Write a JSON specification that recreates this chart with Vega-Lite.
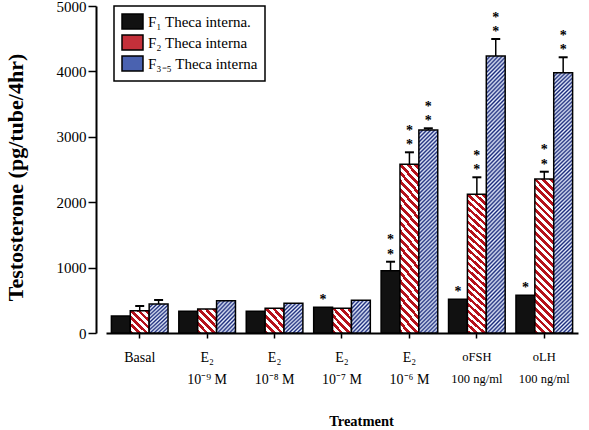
{
  "$schema": "https://vega.github.io/schema/vega-lite/v6.json",
  "autosize": {"type": "none"},
  "width": 472,
  "height": 327,
  "padding": {"left": 106, "top": 6, "right": 11, "bottom": 97},
  "background": "white",
  "config": {
    "font": "Liberation Serif",
    "view": {"stroke": null},
    "axis": {"grid": false, "domainColor": "black", "tickColor": "black", "labelColor": "black", "titleColor": "black", "labelFont": "Liberation Serif", "titleFont": "Liberation Serif"},
    "legend": {"strokeWidth": 1.5}
  },
  "data": {
    "values": [
      {"treatment": "Basal", "series": "F1", "value": 260, "upper": 260, "stars": ""},
      {"treatment": "Basal", "series": "F2", "value": 341, "upper": 413, "stars": ""},
      {"treatment": "Basal", "series": "F3-5", "value": 443, "upper": 505, "stars": ""},
      {"treatment": "E₂|10⁻⁹ M", "series": "F1", "value": 332, "upper": 332, "stars": ""},
      {"treatment": "E₂|10⁻⁹ M", "series": "F2", "value": 367, "upper": 367, "stars": ""},
      {"treatment": "E₂|10⁻⁹ M", "series": "F3-5", "value": 494, "upper": 494, "stars": ""},
      {"treatment": "E₂|10⁻⁸ M", "series": "F1", "value": 333, "upper": 333, "stars": ""},
      {"treatment": "E₂|10⁻⁸ M", "series": "F2", "value": 378, "upper": 378, "stars": ""},
      {"treatment": "E₂|10⁻⁸ M", "series": "F3-5", "value": 454, "upper": 454, "stars": ""},
      {"treatment": "E₂|10⁻⁷ M", "series": "F1", "value": 393, "upper": 393, "stars": "*"},
      {"treatment": "E₂|10⁻⁷ M", "series": "F2", "value": 378, "upper": 378, "stars": ""},
      {"treatment": "E₂|10⁻⁷ M", "series": "F3-5", "value": 500, "upper": 500, "stars": ""},
      {"treatment": "E₂|10⁻⁶ M", "series": "F1", "value": 953, "upper": 1090, "stars": "**"},
      {"treatment": "E₂|10⁻⁶ M", "series": "F2", "value": 2580, "upper": 2763, "stars": "**"},
      {"treatment": "E₂|10⁻⁶ M", "series": "F3-5", "value": 3104, "upper": 3130, "stars": "**"},
      {"treatment": "oFSH|100 ng/ml", "series": "F1", "value": 515, "upper": 515, "stars": "*"},
      {"treatment": "oFSH|100 ng/ml", "series": "F2", "value": 2121, "upper": 2381, "stars": "**"},
      {"treatment": "oFSH|100 ng/ml", "series": "F3-5", "value": 4235, "upper": 4495, "stars": "**"},
      {"treatment": "oLH|100 ng/ml", "series": "F1", "value": 576, "upper": 576, "stars": "*"},
      {"treatment": "oLH|100 ng/ml", "series": "F2", "value": 2355, "upper": 2466, "stars": "**"},
      {"treatment": "oLH|100 ng/ml", "series": "F3-5", "value": 3980, "upper": 4216, "stars": "**"}
    ]
  },
  "encoding": {
    "x": {
      "field": "treatment", "type": "nominal", "sort": null,
      "scale": {"paddingInner": 0.16, "paddingOuter": 0.08},
      "axis": {
        "title": "Treatment", "labelExpr": "split(datum.label, '|')", "labelAngle": 0,
        "tickSize": 5, "tickWidth": 1.5, "domainWidth": 2,
        "labelFontSize": {"condition": {"test": "indexof(datum.value, 'ng') >= 0", "value": 12.5}, "value": 14},
        "labelPadding": 12, "labelLineHeight": 22,
        "titleFontSize": 14.5, "titleFontWeight": "bold", "titlePadding": 28, "titleX": 255
      }
    },
    "xOffset": {"field": "series", "type": "nominal", "sort": ["F1", "F2", "F3-5"], "scale": {"paddingInner": 0, "paddingOuter": 0}}
  },
  "layer": [
    {
      "mark": {"type": "bar", "stroke": "black", "strokeWidth": 1.5},
      "encoding": {
        "y": {
          "field": "value", "type": "quantitative",
          "scale": {"domain": [0, 5000], "nice": false},
          "title": "Testosterone (pg/tube/4hr)",
          "axis": {
            "values": [0, 1000, 2000, 3000, 4000, 5000], "format": "d",
            "offset": 10, "tickSize": 8, "tickWidth": 1.5, "domainWidth": 2,
            "labelFontSize": 15, "labelPadding": 2,
            "titleFontSize": 22, "titleFontWeight": "bold", "titlePadding": 29, "titleY": 171
          }
        },
        "fill": {
          "field": "series", "type": "nominal",
          "scale": {"domain": ["F1", "F2", "F3-5"], "range": ["#111111", "#c4303a", "#4a62b0"]},
          "condition": [
            {"test": "datum.series == 'F2' && datum.value > 1000", "value": {"gradient": "linear", "x1": 0, "y1": 1, "x2": 0.1357, "y2": -0.106, "stops": [
              {"offset": 0, "color": "#b5121b"}, {"offset": 0.022, "color": "#b5121b"}, {"offset": 0.022, "color": "#ffffff"}, {"offset": 0.044, "color": "#ffffff"},
              {"offset": 0.044, "color": "#b5121b"}, {"offset": 0.066, "color": "#b5121b"}, {"offset": 0.066, "color": "#ffffff"}, {"offset": 0.088, "color": "#ffffff"},
              {"offset": 0.088, "color": "#b5121b"}, {"offset": 0.11, "color": "#b5121b"}, {"offset": 0.11, "color": "#ffffff"}, {"offset": 0.132, "color": "#ffffff"},
              {"offset": 0.132, "color": "#b5121b"}, {"offset": 0.154, "color": "#b5121b"}, {"offset": 0.154, "color": "#ffffff"}, {"offset": 0.176, "color": "#ffffff"},
              {"offset": 0.176, "color": "#b5121b"}, {"offset": 0.198, "color": "#b5121b"}, {"offset": 0.198, "color": "#ffffff"}, {"offset": 0.22, "color": "#ffffff"},
              {"offset": 0.22, "color": "#b5121b"}, {"offset": 0.242, "color": "#b5121b"}, {"offset": 0.242, "color": "#ffffff"}, {"offset": 0.264, "color": "#ffffff"},
              {"offset": 0.264, "color": "#b5121b"}, {"offset": 0.286, "color": "#b5121b"}, {"offset": 0.286, "color": "#ffffff"}, {"offset": 0.308, "color": "#ffffff"},
              {"offset": 0.308, "color": "#b5121b"}, {"offset": 0.33, "color": "#b5121b"}, {"offset": 0.33, "color": "#ffffff"}, {"offset": 0.352, "color": "#ffffff"},
              {"offset": 0.352, "color": "#b5121b"}, {"offset": 0.374, "color": "#b5121b"}, {"offset": 0.374, "color": "#ffffff"}, {"offset": 0.396, "color": "#ffffff"},
              {"offset": 0.396, "color": "#b5121b"}, {"offset": 0.418, "color": "#b5121b"}, {"offset": 0.418, "color": "#ffffff"}, {"offset": 0.44, "color": "#ffffff"},
              {"offset": 0.44, "color": "#b5121b"}, {"offset": 0.462, "color": "#b5121b"}, {"offset": 0.462, "color": "#ffffff"}, {"offset": 0.484, "color": "#ffffff"},
              {"offset": 0.484, "color": "#b5121b"}, {"offset": 0.506, "color": "#b5121b"}, {"offset": 0.506, "color": "#ffffff"}, {"offset": 0.528, "color": "#ffffff"},
              {"offset": 0.528, "color": "#b5121b"}, {"offset": 0.55, "color": "#b5121b"}, {"offset": 0.55, "color": "#ffffff"}, {"offset": 0.572, "color": "#ffffff"},
              {"offset": 0.572, "color": "#b5121b"}, {"offset": 0.594, "color": "#b5121b"}, {"offset": 0.594, "color": "#ffffff"}, {"offset": 0.616, "color": "#ffffff"},
              {"offset": 0.616, "color": "#b5121b"}, {"offset": 0.638, "color": "#b5121b"}, {"offset": 0.638, "color": "#ffffff"}, {"offset": 0.66, "color": "#ffffff"},
              {"offset": 0.66, "color": "#b5121b"}, {"offset": 0.682, "color": "#b5121b"}, {"offset": 0.682, "color": "#ffffff"}, {"offset": 0.704, "color": "#ffffff"},
              {"offset": 0.704, "color": "#b5121b"}, {"offset": 0.726, "color": "#b5121b"}, {"offset": 0.726, "color": "#ffffff"}, {"offset": 0.748, "color": "#ffffff"},
              {"offset": 0.748, "color": "#b5121b"}, {"offset": 0.77, "color": "#b5121b"}, {"offset": 0.77, "color": "#ffffff"}, {"offset": 0.792, "color": "#ffffff"},
              {"offset": 0.792, "color": "#b5121b"}, {"offset": 0.814, "color": "#b5121b"}, {"offset": 0.814, "color": "#ffffff"}, {"offset": 0.836, "color": "#ffffff"},
              {"offset": 0.836, "color": "#b5121b"}, {"offset": 0.858, "color": "#b5121b"}, {"offset": 0.858, "color": "#ffffff"}, {"offset": 0.88, "color": "#ffffff"},
              {"offset": 0.88, "color": "#b5121b"}, {"offset": 0.902, "color": "#b5121b"}, {"offset": 0.902, "color": "#ffffff"}, {"offset": 0.924, "color": "#ffffff"},
              {"offset": 0.924, "color": "#b5121b"}, {"offset": 0.946, "color": "#b5121b"}, {"offset": 0.946, "color": "#ffffff"}, {"offset": 0.968, "color": "#ffffff"},
              {"offset": 0.968, "color": "#b5121b"}, {"offset": 0.99, "color": "#b5121b"}, {"offset": 0.99, "color": "#ffffff"}, {"offset": 1, "color": "#ffffff"}
            ]}},
            {"test": "datum.series == 'F2'", "value": {"gradient": "linear", "x1": 0, "y1": 1, "x2": 0.8813, "y2": -0.0955, "stops": [
              {"offset": 0, "color": "#b5121b"}, {"offset": 0.088, "color": "#b5121b"}, {"offset": 0.088, "color": "#ffffff"}, {"offset": 0.176, "color": "#ffffff"},
              {"offset": 0.176, "color": "#b5121b"}, {"offset": 0.264, "color": "#b5121b"}, {"offset": 0.264, "color": "#ffffff"}, {"offset": 0.352, "color": "#ffffff"},
              {"offset": 0.352, "color": "#b5121b"}, {"offset": 0.44, "color": "#b5121b"}, {"offset": 0.44, "color": "#ffffff"}, {"offset": 0.528, "color": "#ffffff"},
              {"offset": 0.528, "color": "#b5121b"}, {"offset": 0.616, "color": "#b5121b"}, {"offset": 0.616, "color": "#ffffff"}, {"offset": 0.704, "color": "#ffffff"},
              {"offset": 0.704, "color": "#b5121b"}, {"offset": 0.792, "color": "#b5121b"}, {"offset": 0.792, "color": "#ffffff"}, {"offset": 0.88, "color": "#ffffff"},
              {"offset": 0.88, "color": "#b5121b"}, {"offset": 0.968, "color": "#b5121b"}, {"offset": 0.968, "color": "#ffffff"}, {"offset": 1, "color": "#ffffff"}
            ]}},
            {"test": "datum.series == 'F3-5' && datum.value > 3500", "value": {"gradient": "linear", "x1": 0, "y1": 0, "x2": 0.075, "y2": 1.065, "stops": [
              {"offset": 0, "color": "#18287a"}, {"offset": 0.007, "color": "#e6edfc"}, {"offset": 0.014, "color": "#18287a"}, {"offset": 0.021, "color": "#e6edfc"},
              {"offset": 0.028, "color": "#18287a"}, {"offset": 0.035, "color": "#e6edfc"}, {"offset": 0.042, "color": "#18287a"}, {"offset": 0.049, "color": "#e6edfc"},
              {"offset": 0.056, "color": "#18287a"}, {"offset": 0.063, "color": "#e6edfc"}, {"offset": 0.07, "color": "#18287a"}, {"offset": 0.077, "color": "#e6edfc"},
              {"offset": 0.084, "color": "#18287a"}, {"offset": 0.091, "color": "#e6edfc"}, {"offset": 0.098, "color": "#18287a"}, {"offset": 0.105, "color": "#e6edfc"},
              {"offset": 0.112, "color": "#18287a"}, {"offset": 0.119, "color": "#e6edfc"}, {"offset": 0.126, "color": "#18287a"}, {"offset": 0.133, "color": "#e6edfc"},
              {"offset": 0.14, "color": "#18287a"}, {"offset": 0.147, "color": "#e6edfc"}, {"offset": 0.154, "color": "#18287a"}, {"offset": 0.161, "color": "#e6edfc"},
              {"offset": 0.168, "color": "#18287a"}, {"offset": 0.175, "color": "#e6edfc"}, {"offset": 0.182, "color": "#18287a"}, {"offset": 0.189, "color": "#e6edfc"},
              {"offset": 0.196, "color": "#18287a"}, {"offset": 0.203, "color": "#e6edfc"}, {"offset": 0.21, "color": "#18287a"}, {"offset": 0.217, "color": "#e6edfc"},
              {"offset": 0.224, "color": "#18287a"}, {"offset": 0.231, "color": "#e6edfc"}, {"offset": 0.238, "color": "#18287a"}, {"offset": 0.245, "color": "#e6edfc"},
              {"offset": 0.252, "color": "#18287a"}, {"offset": 0.259, "color": "#e6edfc"}, {"offset": 0.266, "color": "#18287a"}, {"offset": 0.273, "color": "#e6edfc"},
              {"offset": 0.28, "color": "#18287a"}, {"offset": 0.287, "color": "#e6edfc"}, {"offset": 0.294, "color": "#18287a"}, {"offset": 0.301, "color": "#e6edfc"},
              {"offset": 0.308, "color": "#18287a"}, {"offset": 0.315, "color": "#e6edfc"}, {"offset": 0.322, "color": "#18287a"}, {"offset": 0.329, "color": "#e6edfc"},
              {"offset": 0.336, "color": "#18287a"}, {"offset": 0.343, "color": "#e6edfc"}, {"offset": 0.35, "color": "#18287a"}, {"offset": 0.357, "color": "#e6edfc"},
              {"offset": 0.364, "color": "#18287a"}, {"offset": 0.371, "color": "#e6edfc"}, {"offset": 0.378, "color": "#18287a"}, {"offset": 0.385, "color": "#e6edfc"},
              {"offset": 0.392, "color": "#18287a"}, {"offset": 0.399, "color": "#e6edfc"}, {"offset": 0.406, "color": "#18287a"}, {"offset": 0.413, "color": "#e6edfc"},
              {"offset": 0.42, "color": "#18287a"}, {"offset": 0.427, "color": "#e6edfc"}, {"offset": 0.434, "color": "#18287a"}, {"offset": 0.441, "color": "#e6edfc"},
              {"offset": 0.448, "color": "#18287a"}, {"offset": 0.455, "color": "#e6edfc"}, {"offset": 0.462, "color": "#18287a"}, {"offset": 0.469, "color": "#e6edfc"},
              {"offset": 0.476, "color": "#18287a"}, {"offset": 0.483, "color": "#e6edfc"}, {"offset": 0.49, "color": "#18287a"}, {"offset": 0.497, "color": "#e6edfc"},
              {"offset": 0.504, "color": "#18287a"}, {"offset": 0.511, "color": "#e6edfc"}, {"offset": 0.518, "color": "#18287a"}, {"offset": 0.525, "color": "#e6edfc"},
              {"offset": 0.532, "color": "#18287a"}, {"offset": 0.539, "color": "#e6edfc"}, {"offset": 0.546, "color": "#18287a"}, {"offset": 0.553, "color": "#e6edfc"},
              {"offset": 0.56, "color": "#18287a"}, {"offset": 0.567, "color": "#e6edfc"}, {"offset": 0.574, "color": "#18287a"}, {"offset": 0.581, "color": "#e6edfc"},
              {"offset": 0.588, "color": "#18287a"}, {"offset": 0.595, "color": "#e6edfc"}, {"offset": 0.602, "color": "#18287a"}, {"offset": 0.609, "color": "#e6edfc"},
              {"offset": 0.616, "color": "#18287a"}, {"offset": 0.623, "color": "#e6edfc"}, {"offset": 0.63, "color": "#18287a"}, {"offset": 0.637, "color": "#e6edfc"},
              {"offset": 0.644, "color": "#18287a"}, {"offset": 0.651, "color": "#e6edfc"}, {"offset": 0.658, "color": "#18287a"}, {"offset": 0.665, "color": "#e6edfc"},
              {"offset": 0.672, "color": "#18287a"}, {"offset": 0.679, "color": "#e6edfc"}, {"offset": 0.686, "color": "#18287a"}, {"offset": 0.693, "color": "#e6edfc"},
              {"offset": 0.7, "color": "#18287a"}, {"offset": 0.707, "color": "#e6edfc"}, {"offset": 0.714, "color": "#18287a"}, {"offset": 0.721, "color": "#e6edfc"},
              {"offset": 0.728, "color": "#18287a"}, {"offset": 0.735, "color": "#e6edfc"}, {"offset": 0.742, "color": "#18287a"}, {"offset": 0.749, "color": "#e6edfc"},
              {"offset": 0.756, "color": "#18287a"}, {"offset": 0.763, "color": "#e6edfc"}, {"offset": 0.77, "color": "#18287a"}, {"offset": 0.777, "color": "#e6edfc"},
              {"offset": 0.784, "color": "#18287a"}, {"offset": 0.791, "color": "#e6edfc"}, {"offset": 0.798, "color": "#18287a"}, {"offset": 0.805, "color": "#e6edfc"},
              {"offset": 0.812, "color": "#18287a"}, {"offset": 0.819, "color": "#e6edfc"}, {"offset": 0.826, "color": "#18287a"}, {"offset": 0.833, "color": "#e6edfc"},
              {"offset": 0.84, "color": "#18287a"}, {"offset": 0.847, "color": "#e6edfc"}, {"offset": 0.854, "color": "#18287a"}, {"offset": 0.861, "color": "#e6edfc"},
              {"offset": 0.868, "color": "#18287a"}, {"offset": 0.875, "color": "#e6edfc"}, {"offset": 0.882, "color": "#18287a"}, {"offset": 0.889, "color": "#e6edfc"},
              {"offset": 0.896, "color": "#18287a"}, {"offset": 0.903, "color": "#e6edfc"}, {"offset": 0.91, "color": "#18287a"}, {"offset": 0.917, "color": "#e6edfc"},
              {"offset": 0.924, "color": "#18287a"}, {"offset": 0.931, "color": "#e6edfc"}, {"offset": 0.938, "color": "#18287a"}, {"offset": 0.945, "color": "#e6edfc"},
              {"offset": 0.952, "color": "#18287a"}, {"offset": 0.959, "color": "#e6edfc"}, {"offset": 0.966, "color": "#18287a"}, {"offset": 0.973, "color": "#e6edfc"},
              {"offset": 0.98, "color": "#18287a"}, {"offset": 0.987, "color": "#e6edfc"}, {"offset": 0.994, "color": "#18287a"}
            ]}},
            {"test": "datum.series == 'F3-5' && datum.value > 1000", "value": {"gradient": "linear", "x1": 0, "y1": 0, "x2": 0.1009, "y2": 1.0837, "stops": [
              {"offset": 0, "color": "#18287a"}, {"offset": 0.009, "color": "#e6edfc"}, {"offset": 0.018, "color": "#18287a"}, {"offset": 0.027, "color": "#e6edfc"},
              {"offset": 0.036, "color": "#18287a"}, {"offset": 0.045, "color": "#e6edfc"}, {"offset": 0.054, "color": "#18287a"}, {"offset": 0.063, "color": "#e6edfc"},
              {"offset": 0.072, "color": "#18287a"}, {"offset": 0.081, "color": "#e6edfc"}, {"offset": 0.09, "color": "#18287a"}, {"offset": 0.099, "color": "#e6edfc"},
              {"offset": 0.108, "color": "#18287a"}, {"offset": 0.117, "color": "#e6edfc"}, {"offset": 0.126, "color": "#18287a"}, {"offset": 0.135, "color": "#e6edfc"},
              {"offset": 0.144, "color": "#18287a"}, {"offset": 0.153, "color": "#e6edfc"}, {"offset": 0.162, "color": "#18287a"}, {"offset": 0.171, "color": "#e6edfc"},
              {"offset": 0.18, "color": "#18287a"}, {"offset": 0.189, "color": "#e6edfc"}, {"offset": 0.198, "color": "#18287a"}, {"offset": 0.207, "color": "#e6edfc"},
              {"offset": 0.216, "color": "#18287a"}, {"offset": 0.225, "color": "#e6edfc"}, {"offset": 0.234, "color": "#18287a"}, {"offset": 0.243, "color": "#e6edfc"},
              {"offset": 0.252, "color": "#18287a"}, {"offset": 0.261, "color": "#e6edfc"}, {"offset": 0.27, "color": "#18287a"}, {"offset": 0.279, "color": "#e6edfc"},
              {"offset": 0.288, "color": "#18287a"}, {"offset": 0.297, "color": "#e6edfc"}, {"offset": 0.306, "color": "#18287a"}, {"offset": 0.315, "color": "#e6edfc"},
              {"offset": 0.324, "color": "#18287a"}, {"offset": 0.333, "color": "#e6edfc"}, {"offset": 0.342, "color": "#18287a"}, {"offset": 0.351, "color": "#e6edfc"},
              {"offset": 0.36, "color": "#18287a"}, {"offset": 0.369, "color": "#e6edfc"}, {"offset": 0.378, "color": "#18287a"}, {"offset": 0.387, "color": "#e6edfc"},
              {"offset": 0.396, "color": "#18287a"}, {"offset": 0.405, "color": "#e6edfc"}, {"offset": 0.414, "color": "#18287a"}, {"offset": 0.423, "color": "#e6edfc"},
              {"offset": 0.432, "color": "#18287a"}, {"offset": 0.441, "color": "#e6edfc"}, {"offset": 0.45, "color": "#18287a"}, {"offset": 0.459, "color": "#e6edfc"},
              {"offset": 0.468, "color": "#18287a"}, {"offset": 0.477, "color": "#e6edfc"}, {"offset": 0.486, "color": "#18287a"}, {"offset": 0.495, "color": "#e6edfc"},
              {"offset": 0.504, "color": "#18287a"}, {"offset": 0.513, "color": "#e6edfc"}, {"offset": 0.522, "color": "#18287a"}, {"offset": 0.531, "color": "#e6edfc"},
              {"offset": 0.54, "color": "#18287a"}, {"offset": 0.549, "color": "#e6edfc"}, {"offset": 0.558, "color": "#18287a"}, {"offset": 0.567, "color": "#e6edfc"},
              {"offset": 0.576, "color": "#18287a"}, {"offset": 0.585, "color": "#e6edfc"}, {"offset": 0.594, "color": "#18287a"}, {"offset": 0.603, "color": "#e6edfc"},
              {"offset": 0.612, "color": "#18287a"}, {"offset": 0.621, "color": "#e6edfc"}, {"offset": 0.63, "color": "#18287a"}, {"offset": 0.639, "color": "#e6edfc"},
              {"offset": 0.648, "color": "#18287a"}, {"offset": 0.657, "color": "#e6edfc"}, {"offset": 0.666, "color": "#18287a"}, {"offset": 0.675, "color": "#e6edfc"},
              {"offset": 0.684, "color": "#18287a"}, {"offset": 0.693, "color": "#e6edfc"}, {"offset": 0.702, "color": "#18287a"}, {"offset": 0.711, "color": "#e6edfc"},
              {"offset": 0.72, "color": "#18287a"}, {"offset": 0.729, "color": "#e6edfc"}, {"offset": 0.738, "color": "#18287a"}, {"offset": 0.747, "color": "#e6edfc"},
              {"offset": 0.756, "color": "#18287a"}, {"offset": 0.765, "color": "#e6edfc"}, {"offset": 0.774, "color": "#18287a"}, {"offset": 0.783, "color": "#e6edfc"},
              {"offset": 0.792, "color": "#18287a"}, {"offset": 0.801, "color": "#e6edfc"}, {"offset": 0.81, "color": "#18287a"}, {"offset": 0.819, "color": "#e6edfc"},
              {"offset": 0.828, "color": "#18287a"}, {"offset": 0.837, "color": "#e6edfc"}, {"offset": 0.846, "color": "#18287a"}, {"offset": 0.855, "color": "#e6edfc"},
              {"offset": 0.864, "color": "#18287a"}, {"offset": 0.873, "color": "#e6edfc"}, {"offset": 0.882, "color": "#18287a"}, {"offset": 0.891, "color": "#e6edfc"},
              {"offset": 0.9, "color": "#18287a"}, {"offset": 0.909, "color": "#e6edfc"}, {"offset": 0.918, "color": "#18287a"}, {"offset": 0.927, "color": "#e6edfc"},
              {"offset": 0.936, "color": "#18287a"}, {"offset": 0.945, "color": "#e6edfc"}, {"offset": 0.954, "color": "#18287a"}, {"offset": 0.963, "color": "#e6edfc"},
              {"offset": 0.972, "color": "#18287a"}, {"offset": 0.981, "color": "#e6edfc"}, {"offset": 0.99, "color": "#18287a"}, {"offset": 0.999, "color": "#e6edfc"}
            ]}},
            {"test": "datum.series == 'F3-5'", "value": {"gradient": "linear", "x1": 0, "y1": 0, "x2": 0.7155, "y2": 1.1735, "stops": [
              {"offset": 0, "color": "#18287a"}, {"offset": 0.04, "color": "#e6edfc"}, {"offset": 0.08, "color": "#18287a"}, {"offset": 0.12, "color": "#e6edfc"},
              {"offset": 0.16, "color": "#18287a"}, {"offset": 0.2, "color": "#e6edfc"}, {"offset": 0.24, "color": "#18287a"}, {"offset": 0.28, "color": "#e6edfc"},
              {"offset": 0.32, "color": "#18287a"}, {"offset": 0.36, "color": "#e6edfc"}, {"offset": 0.4, "color": "#18287a"}, {"offset": 0.44, "color": "#e6edfc"},
              {"offset": 0.48, "color": "#18287a"}, {"offset": 0.52, "color": "#e6edfc"}, {"offset": 0.56, "color": "#18287a"}, {"offset": 0.6, "color": "#e6edfc"},
              {"offset": 0.64, "color": "#18287a"}, {"offset": 0.68, "color": "#e6edfc"}, {"offset": 0.72, "color": "#18287a"}, {"offset": 0.76, "color": "#e6edfc"},
              {"offset": 0.8, "color": "#18287a"}, {"offset": 0.84, "color": "#e6edfc"}, {"offset": 0.88, "color": "#18287a"}, {"offset": 0.92, "color": "#e6edfc"},
              {"offset": 0.96, "color": "#18287a"}, {"offset": 1, "color": "#e6edfc"}
            ]}}
          ],
          "legend": {
            "title": null, "orient": "none", "legendX": 8, "legendY": 0,
            "strokeColor": "black", "fillColor": "white", "padding": 7,
            "symbolType": "M-1,-1H1.8V1H-1Z", "symbolSize": 225,
            "symbolStrokeColor": "black", "symbolStrokeWidth": 1.5, "symbolOpacity": 1,
            "labelFont": "Liberation Serif", "labelFontSize": 15, "labelColor": "black",
            "labelOffset": 10, "rowPadding": 0,
            "labelExpr": "datum.value == 'F1' ? 'F₁  Theca interna.' : datum.value == 'F2' ? 'F₂  Theca interna' : 'F₃₋₅ Theca interna'"
          }
        }
      }
    },
    {
      "transform": [{"filter": "datum.upper > datum.value"}],
      "mark": {"type": "rule", "color": "black", "strokeWidth": 1.5},
      "encoding": {
        "y": {"field": "value", "type": "quantitative", "title": "Testosterone (pg/tube/4hr)"},
        "y2": {"field": "upper"}
      }
    },
    {
      "transform": [{"filter": "datum.upper > datum.value"}],
      "mark": {"type": "tick", "color": "black", "thickness": 2, "size": 9, "opacity": 1},
      "encoding": {
        "y": {"field": "upper", "type": "quantitative", "title": "Testosterone (pg/tube/4hr)"}
      }
    },
    {
      "transform": [{"filter": "datum.stars != ''"}],
      "mark": {"type": "text", "font": "Liberation Serif", "fontSize": 14, "fontWeight": "bold", "baseline": "bottom", "dy": 0, "fill": "black", "color": "black"},
      "encoding": {
        "y": {"field": "upper", "type": "quantitative", "title": "Testosterone (pg/tube/4hr)"},
        "text": {"value": "*"}
      }
    },
    {
      "transform": [{"filter": "datum.stars == '**'"}],
      "mark": {"type": "text", "font": "Liberation Serif", "fontSize": 14, "fontWeight": "bold", "baseline": "bottom", "dy": -14.5, "fill": "black", "color": "black"},
      "encoding": {
        "y": {"field": "upper", "type": "quantitative", "title": "Testosterone (pg/tube/4hr)"},
        "text": {"value": "*"}
      }
    }
  ]
}
